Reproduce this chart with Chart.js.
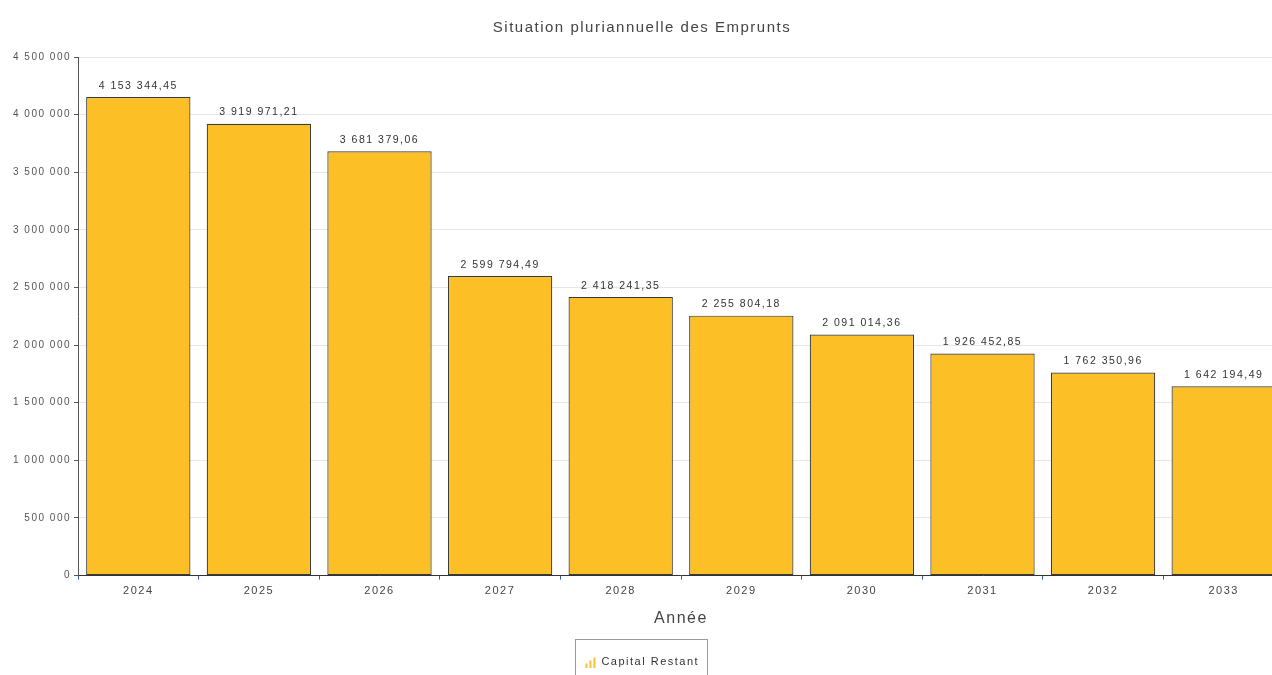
<!DOCTYPE html>
<html>
<head>
<meta charset="utf-8">
<script src="https://cdn.jsdelivr.net/npm/chart.js@4.4.1/dist/chart.umd.min.js"></script>
<style>
  html, body { margin: 0; padding: 0; overflow: hidden; background: #fff; width: 1272px; height: 675px; }
  #wrap { position: relative; width: 1284px; height: 677px; }
</style>
</head>
<body>
<div id="wrap"><canvas id="c"></canvas></div>
<script>
const categories = ['2024', '2025', '2026', '2027', '2028', '2029', '2030', '2031', '2032', '2033'];
const capitalRestant = [4153344.45, 3919971.21, 3681379.06, 2599794.49, 2418241.35, 2255804.18, 2091014.36, 1926452.85, 1762350.96, 1642194.49];
const seriesName = 'Capital Restant';
const chartTitle = 'Situation pluriannuelle des Emprunts';
const xTitle = 'Année';
const yMin = 0, yMax = 4500000, yStep = 500000;

function fmt(v, dec) {
  const parts = v.toFixed(dec).split('.');
  const ip = parts[0].replace(/\B(?=(\d{3})+(?!\d))/g, ' ');
  return dec ? ip + ',' + parts[1] : ip;
}

const FONT = "'Liberation Sans', Arial, sans-serif";
const SPACING = '1.5px';

// legend icon: small bar-chart glyph
const icon = document.createElement('canvas');
icon.width = 12; icon.height = 12;
(function () {
  const g = icon.getContext('2d');
  g.fillStyle = '#F5C33B';
  g.fillRect(1, 8, 2, 4);
  g.fillRect(5, 5, 2, 7);
  g.fillRect(9, 2, 2, 10);
})();

const wideText = {
  id: 'wideText',
  beforeInit(chart) { chart.ctx.letterSpacing = SPACING; },
  beforeLayout(chart) { chart.ctx.letterSpacing = SPACING; },
  beforeDraw(chart) { chart.ctx.letterSpacing = SPACING; }
};

const valueLabels = {
  id: 'valueLabels',
  afterDatasetsDraw(chart) {
    const ctx = chart.ctx;
    const meta = chart.getDatasetMeta(0);
    ctx.save();
    ctx.letterSpacing = SPACING;
    ctx.font = '10.5px ' + FONT;
    ctx.fillStyle = '#333';
    ctx.textAlign = 'center';
    ctx.textBaseline = 'bottom';
    meta.data.forEach((bar, i) => {
      ctx.fillText(fmt(chart.data.datasets[0].data[i], 2), bar.x, bar.y - 6);
    });
    ctx.restore();
  }
};

const legendBox = {
  id: 'legendBox',
  afterDraw(chart) {
    const lg = chart.legend;
    if (!lg || !lg.legendHitBoxes || !lg.legendHitBoxes.length) return;
    const b = lg.legendHitBoxes[0];
    const ctx = chart.ctx;
    const cy = b.top + b.height / 2;
    ctx.save();
    ctx.strokeStyle = '#9a9a9a';
    ctx.lineWidth = 1;
    const l = Math.round(b.left - 10) + 0.5, t = Math.round(cy - 23) + 0.5;
    const r = Math.round(b.left + b.width + 8) + 0.5;
    ctx.strokeRect(l, t, r - l, 60);
    ctx.restore();
  }
};

new Chart(document.getElementById('c'), {
  type: 'bar',
  data: {
    labels: categories,
    datasets: [{
      label: seriesName,
      data: capitalRestant,
      backgroundColor: '#FCBF26',
      borderColor: '#3a3a3a',
      borderWidth: 1.2,
      borderSkipped: false,
      barPercentage: 0.865,
      categoryPercentage: 1.0,
      pointStyle: icon
    }]
  },
  options: {
    responsive: true,
    maintainAspectRatio: false,
    animation: false,
    layout: { padding: { left: 0, right: 0, top: 0, bottom: 0 } },
    plugins: {
      title: {
        display: true,
        text: chartTitle,
        color: '#444',
        font: { family: FONT, size: 15, weight: 'normal' },
        padding: { top: 19, bottom: 20 }
      },
      legend: {
        display: true,
        position: 'bottom',
        labels: {
          usePointStyle: true,
          color: '#333',
          font: { family: FONT, size: 11 },
          padding: 18
        }
      },
      tooltip: { enabled: false }
    },
    scales: {
      x: {
        offset: true,
        grid: {
          offset: true,
          drawOnChartArea: false,
          drawTicks: true,
          tickLength: 4,
          tickColor: '#3355cc'
        },
        border: { display: true, color: '#333', width: 1 },
        ticks: {
          color: '#444',
          font: { family: FONT, size: 11 },
          padding: 5
        },
        title: {
          display: true,
          text: xTitle,
          color: '#444',
          font: { family: FONT, size: 16 },
          padding: { top: 6, bottom: 10 }
        }
      },
      y: {
        min: yMin,
        max: yMax,
        afterFit(scale) { scale.width = 78; },
        ticks: {
          stepSize: yStep,
          color: '#555',
          font: { family: FONT, size: 10 },
          padding: 3,
          callback: (v) => fmt(v, 0)
        },
        grid: {
          color: '#e6e6e6',
          tickColor: '#555',
          tickLength: 4
        },
        border: { display: true, color: '#555', width: 1 }
      }
    }
  },
  plugins: [wideText, valueLabels, legendBox]
});
</script>
</body>
</html>
